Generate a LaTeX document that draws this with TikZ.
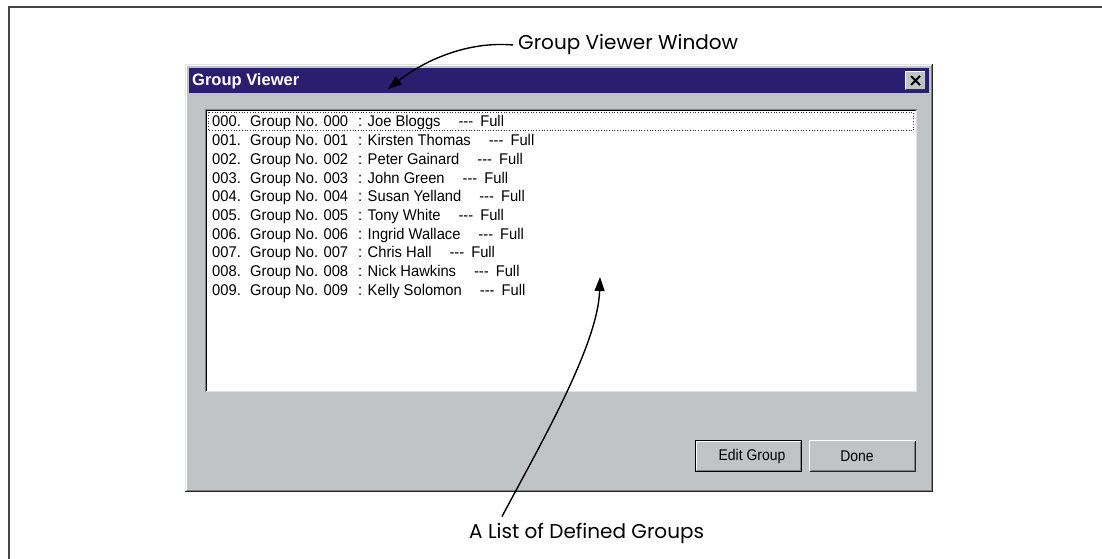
\documentclass[tikz,border=0pt]{standalone}
\usepackage{fontspec}
\usetikzlibrary{arrows.meta,calc}
\newfontfamily\uifont[FakeStretch=0.95]{Liberation Sans}
\newfontfamily\btnfont[FakeStretch=0.9]{Liberation Sans}
\newfontfamily\titlefont{Liberation Sans}
\newfontfamily\notefont{Poppins}
\definecolor{winbg}{RGB}{193,196,196}
\definecolor{titlebar}{RGB}{43,30,110}
\definecolor{framecol}{RGB}{70,70,70}
\definecolor{bevellight}{RGB}{225,227,227}
\definecolor{beveldark}{RGB}{128,128,128}
\tikzset{
  item/.style={anchor=base west, inner sep=0pt, font=\fontsize{15.5}{18}\uifont},
  note/.style={inner sep=0pt, font=\fontsize{20}{24}\notefont},
  pointer/.style={line width=1.4pt, -{Triangle[length=14pt,width=10pt]}},
  btnlabel/.style={font=\fontsize{15.5}{18}\btnfont},
}
\begin{document}
\begin{tikzpicture}[x=1pt,y=-1pt]
\useasboundingbox (0,0) rectangle (1102,559);
\fill[white] (0,0) rectangle (1102,559);

% page frame
\draw[framecol, line width=2pt] (9,559) -- (9,7) -- (1102,7);

% dialog body with raised bevel
\fill[winbg] (185,64) rectangle (933,492);
\draw[bevellight, line width=1pt] (185.5,491) -- (185.5,64.5) -- (932,64.5);
\draw[white, line width=1pt] (186.5,490) -- (186.5,65.5) -- (931,65.5);
\draw[beveldark, line width=1pt] (186.5,490.5) -- (931.5,490.5) -- (931.5,65.5);
\draw[black!85, line width=1.2pt] (185,491.6) -- (932.6,491.6) -- (932.6,64);

% title bar
\fill[titlebar] (189,68) rectangle (929,93);
\node[anchor=west, inner sep=0pt, text=white, font=\fontsize{16.5}{19}\titlefont\bfseries] (title) at (192,81) {Group Viewer};

% close button
\fill[winbg] (905,71) rectangle (926,90);
\draw[white, line width=1pt] (905.5,89.5) -- (905.5,71.5) -- (925.5,71.5);
\draw[black!80, line width=1pt] (905.5,89.5) -- (925.5,89.5) -- (925.5,71.5);
\draw[line width=2pt] (911,76) -- (920,85) (920,76) -- (911,85);

% list box, sunken
\fill[white] (205,109) rectangle (917,392);
\draw[beveldark, line width=1pt] (205.5,392) -- (205.5,109.5) -- (917,109.5);
\draw[black, line width=1pt] (206.5,391) -- (206.5,110.5) -- (916,110.5);
\draw[bevellight, line width=1pt] (206,391.5) -- (916.5,391.5) -- (916.5,110);

% focus rectangle on the first entry
\draw[black!80, dotted, line width=0.7pt] (208.5,112.5) rectangle (913.5,130.5);

% entries
\foreach \n/\who [count=\i from 0] in {000/Joe Bloggs, 001/Kirsten Thomas,
    002/Peter Gainard, 003/John Green, 004/Susan Yelland, 005/Tony White,
    006/Ingrid Wallace, 007/Chris Hall, 008/Nick Hawkins, 009/Kelly Solomon}{
  \pgfmathsetmacro{\yb}{127+18.7*\i}
  \node[item] (num\i) at (212,\yb) {\n.};
  \node[item] (grp\i) at (250,\yb) {Group No. \n};
  \node[item] (who\i) at (358,\yb) {: \who\hspace{18pt}-{}-{}-\hspace{7pt}Full};
}

% buttons
\fill[winbg] (695,440) rectangle (802,472);
\draw[black, line width=1pt] (695.5,440.5) rectangle (801.5,471.5);
\draw[white, line width=1pt] (696.5,470) -- (696.5,441.5) -- (800,441.5);
\draw[beveldark, line width=1pt] (697,470.5) -- (800.5,470.5) -- (800.5,442);
\node[btnlabel] (edit) at (752,456) {Edit Group};

\fill[winbg] (809,440) rectangle (916,472);
\draw[white, line width=1pt] (809.5,471) -- (809.5,440.5) -- (915.5,440.5);
\draw[black!85, line width=1pt] (809.5,471.5) -- (915.5,471.5) -- (915.5,440.5);
\draw[beveldark, line width=1pt] (810.5,470.5) -- (914.5,470.5) -- (914.5,441.5);
\node[btnlabel] (done) at (857,456) {Done};

% callouts
\node[note, anchor=base west] (gvw) at (518,50) {Group Viewer Window};
\coordinate (tipwin) at (388,89);
\draw[pointer] ([xshift=-5pt]gvw.west) .. controls (468,41) and (425,60) .. (tipwin);

\node[note, anchor=base west] (agd) at (469,538) {A List of Defined Groups};
\coordinate (tiplist) at (600,277);
\draw[pointer] ([xshift=33pt,yshift=6pt]agd.north west) .. controls (540,445) and (598,345) .. (tiplist);
\end{tikzpicture}
\end{document}
